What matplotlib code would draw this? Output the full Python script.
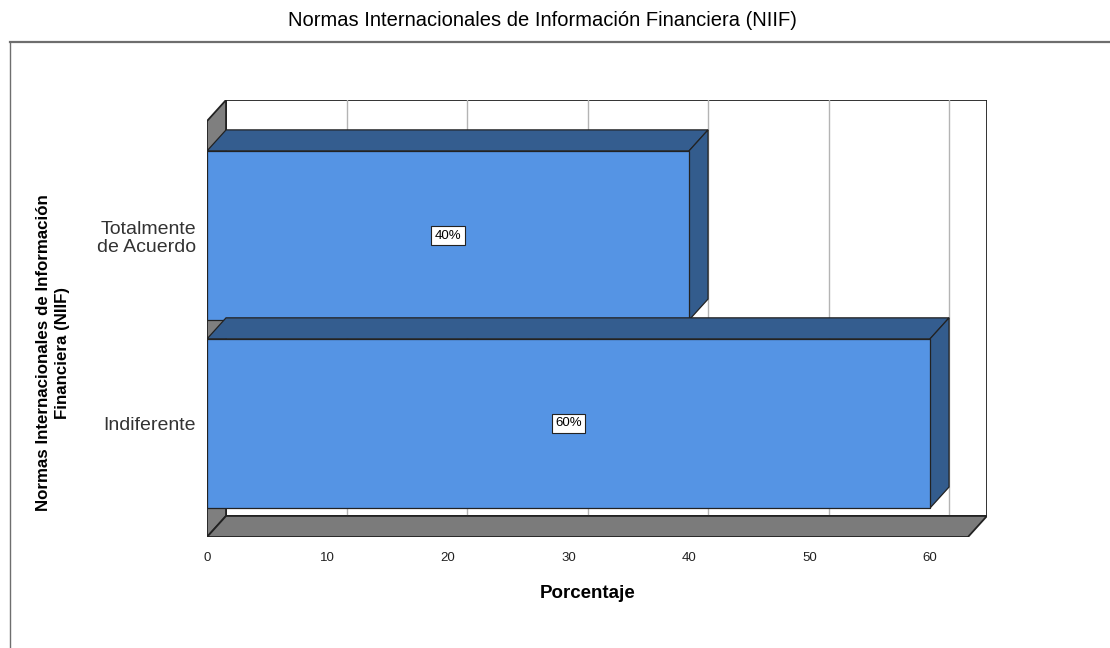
import matplotlib
matplotlib.use("Agg")
import matplotlib.pyplot as plt
from matplotlib.patches import Polygon
from matplotlib.lines import Line2D

plt.rcParams['font.family'] = ['Liberation Sans', 'DejaVu Sans']

# ---- data ----
categories = ["Indiferente", "Totalmente\nde Acuerdo"]
values = [60, 40]
value_labels = ["60%", "40%"]
xticks = [0, 10, 20, 30, 40, 50, 60]
title = "Normas Internacionales de Información Financiera (NIIF)"
ylabel = "Normas Internacionales de Información\nFinanciera (NIIF)"
xlabel = "Porcentaje"

W, H = 1110, 648
fig = plt.figure(figsize=(W / 100, H / 100), dpi=100)
ax = fig.add_axes([207 / W, 1 - 537 / H, 780 / W, 437 / H])

DX, DY = 1.58, 0.112          # depth offset (data units)
XF = 63.15                    # front-plane x extent
YB, YT = -0.604, 1.609        # front-plane y extent
ypos = list(range(len(categories)))
BH = 0.9

ax.set_xlim(0, XF + DX)
ax.set_ylim(YB, YT + DY)

edge = '#222222'
# back wall
ax.add_patch(Polygon([(DX, YB + DY), (XF + DX, YB + DY), (XF + DX, YT + DY), (DX, YT + DY)],
                     closed=True, fc='white', ec=edge, lw=1.3, zorder=1))
for t in xticks[1:]:
    ax.plot([t + DX, t + DX], [YB + DY, YT + DY], color='#b4b4b4', lw=1, zorder=1.5)
# left wall
ax.add_patch(Polygon([(0, YB), (DX, YB + DY), (DX, YT + DY), (0, YT)],
                     closed=True, fc='#7f7f7f', ec=edge, lw=1.3, zorder=2))
# floor
ax.add_patch(Polygon([(0, YB), (XF, YB), (XF + DX, YB + DY), (DX, YB + DY)],
                     closed=True, fc='#7b7b7b', ec=edge, lw=1.3, zorder=2))

front_c = '#5594e4'
top_c = '#345d8f'
side_c = '#335c8d'
order = sorted(range(len(categories)), key=lambda i: -ypos[i])
for k, i in enumerate(order):
    v, y, h = values[i], ypos[i], BH / 2
    z = 3 + k
    ax.add_patch(Polygon([(0, y + h), (v, y + h), (v + DX, y + h + DY), (DX, y + h + DY)],
                         closed=True, fc=top_c, ec=edge, lw=0.9, zorder=z))
    ax.add_patch(Polygon([(v, y - h), (v, y + h), (v + DX, y + h + DY), (v + DX, y - h + DY)],
                         closed=True, fc=side_c, ec=edge, lw=0.9, zorder=z))
    ax.barh(y, v, height=BH, color=front_c, edgecolor=edge, lw=0.9, zorder=z + 0.1)
    ax.text(v / 2, y, value_labels[i], ha='center', va='center', fontsize=9.5,
            zorder=z + 0.2,
            bbox=dict(boxstyle='square,pad=0.25', fc='white', ec=edge, lw=0.8))

for s in ax.spines.values():
    s.set_visible(False)
ax.set_xticks(xticks)
ax.set_xticklabels([str(t) for t in xticks])
ax.tick_params(axis='x', length=0, pad=11, labelsize=9.5, labelcolor='#222222')
ax.set_yticks(ypos)
ax.set_yticklabels(categories, linespacing=1.15)
ax.tick_params(axis='y', length=0, pad=8, labelsize=14, labelcolor='#333333')

fig.text(542 / W, 1 - 20 / H, title, ha='center', va='center', fontsize=14.5)
fig.text(53 / W, 1 - 353 / H, ylabel, ha='center', va='center', rotation=90,
         fontsize=12.2, fontweight='bold', linespacing=1.25)
fig.text(588 / W, 1 - 593 / H, xlabel, ha='center', va='center',
         fontsize=13.5, fontweight='bold')

fig.add_artist(Line2D([10 / W, 1], [1 - 42 / H, 1 - 42 / H], color='#6e6e6e', lw=1.6,
                      transform=fig.transFigure))
fig.add_artist(Line2D([10 / W, 10 / W], [1 - 42 / H, 0], color='#6e6e6e', lw=1.0,
                      transform=fig.transFigure))

fig.savefig('out.png', dpi=100)
